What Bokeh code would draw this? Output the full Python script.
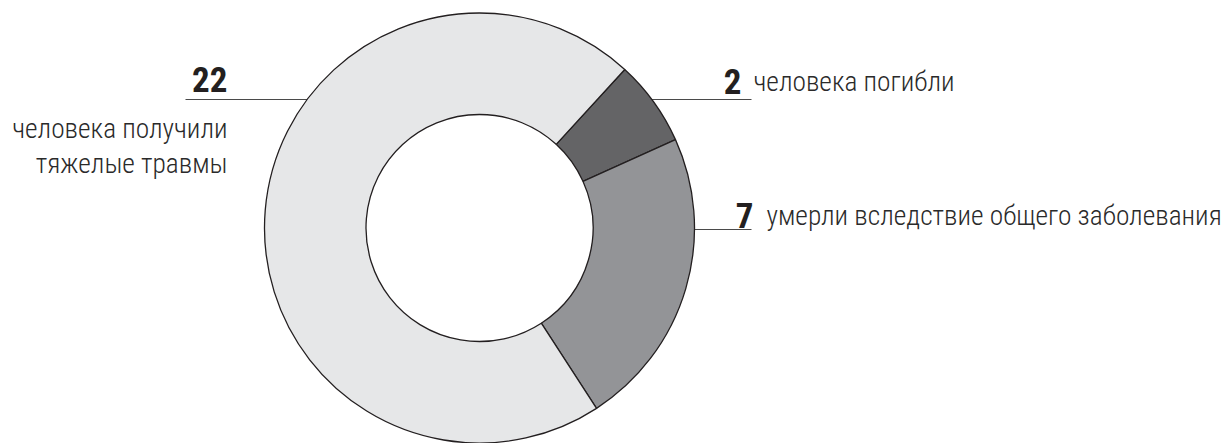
import math
from bokeh.plotting import figure
from bokeh.models import Range1d
from bokeh.core.properties import value
from bokeh.embed import file_html
from bokeh.resources import INLINE

# ---- data ----
categories = ["погибли", "умерли вследствие общего заболевания", "получили тяжелые травмы"]
counts = [2, 7, 22]
colors = ["#646466", "#939497", "#e6e7e8"]
numbers = ["2", "7", "22"]
label_2 = "человека погибли"
label_7 = "умерли вследствие общего заболевания"
label_22 = ["человека получили", "тяжелые травмы"]

W, H = 1227, 443
TSHIFT = 11  # baseline correction

def sy(y):  # screen y -> data y
    return H - y

def ty(y):  # text baseline screen y -> data y
    return H - (y - TSHIFT)

p = figure(width=W, height=H, output_backend="svg", toolbar_location=None,
           x_range=Range1d(0, W), y_range=Range1d(0, H), min_border=0)
p.axis.visible = False
p.grid.visible = False
p.outline_line_color = None
p.background_fill_color = "white"
p.border_fill_color = "white"

cx, cy = 479, 227.5
R_out, R_in = 215, 113.5
theta0 = 42.5  # degrees clockwise from 12 o'clock

total = sum(counts)
starts, ends = [], []
acc = 0
for c in counts:
    a0 = theta0 + acc / total * 360
    acc += c
    a1 = theta0 + acc / total * 360
    starts.append(math.radians(90 - a0))
    ends.append(math.radians(90 - a1))

LC = "#4a4a4a"
def edge_x(y, side):
    dy = y - cy
    return cx + side * math.sqrt(R_out ** 2 - dy ** 2)

# leader lines (drawn first, wedges cover inner part)
p.segment(x0=[185, edge_x(99, 1), edge_x(229, 1)], y0=[sy(99), sy(99), sy(229)],
          x1=[edge_x(99, -1), 751, 751], y1=[sy(99), sy(99), sy(229)],
          line_color=LC, line_width=1.2)

p.annular_wedge(x=[cx] * 3, y=[sy(cy)] * 3, inner_radius=R_in, outer_radius=R_out,
                start_angle=starts, end_angle=ends, direction="clock",
                fill_color=colors, line_color="#231f20", line_width=1.3)

NUMF = value("Roboto Condensed")
TXTF = value("'Roboto Condensed Light', 'Roboto Condensed'")
TC = "#231f20"
TC2 = "#2a2a2a"
NS = "35px"
TS = "27.4px"

# numbers
p.text(x=[227], y=[ty(90)], text=[numbers[2]], text_align="right", text_baseline="alphabetic",
       text_font=NUMF, text_font_style="bold", text_font_size=NS, text_color=TC)
p.text(x=[741], y=[ty(92)], text=[numbers[0]], text_align="right", text_baseline="alphabetic",
       text_font=NUMF, text_font_style="bold", text_font_size=NS, text_color=TC)
p.text(x=[753], y=[ty(226)], text=[numbers[1]], text_align="right", text_baseline="alphabetic",
       text_font=NUMF, text_font_style="bold", text_font_size=NS, text_color=TC)

# labels
p.text(x=[227, 227], y=[ty(139), ty(174)], text=label_22, text_align="right",
       text_baseline="alphabetic", text_font=TXTF, text_font_size=TS, text_color=TC2)
p.text(x=[753], y=[ty(92)], text=[label_2], text_align="left",
       text_baseline="alphabetic", text_font=TXTF, text_font_size=TS, text_color=TC2)
p.text(x=[766], y=[ty(226)], text=[label_7], text_align="left",
       text_baseline="alphabetic", text_font=TXTF, text_font_size=TS, text_color=TC2)

open("out.html", "w").write(file_html(p, INLINE))
